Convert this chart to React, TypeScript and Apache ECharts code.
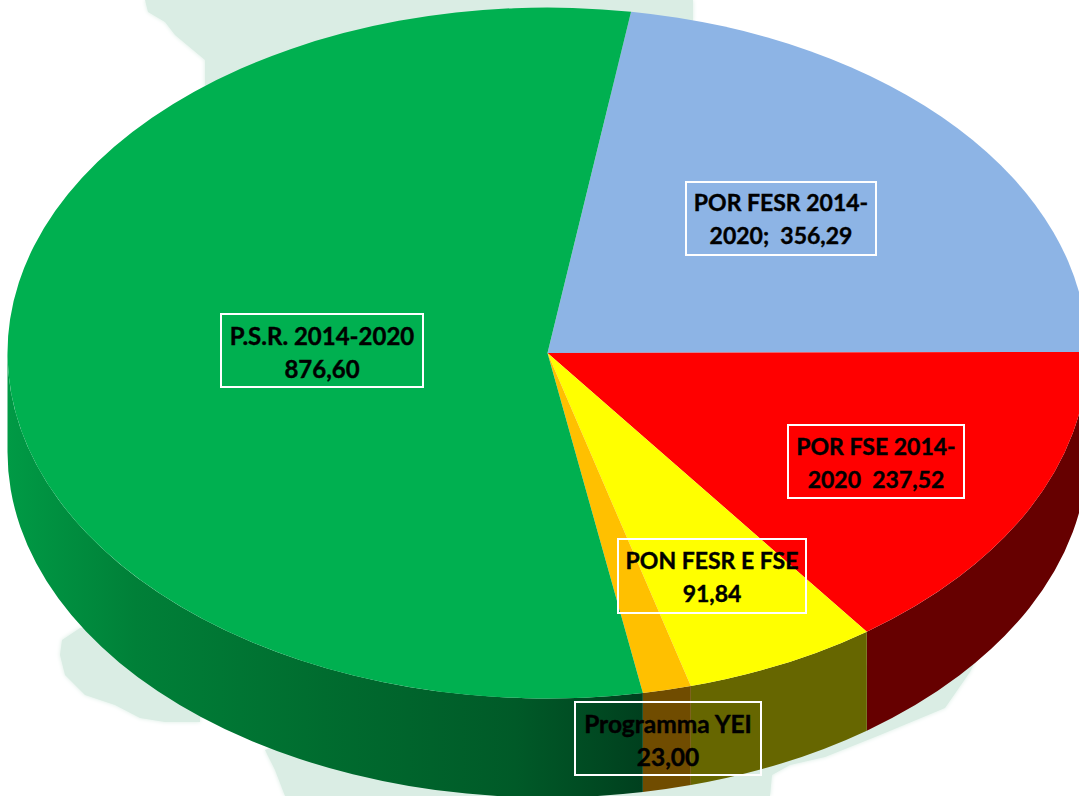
import React, { useEffect, useRef } from "react";
import * as echarts from "echarts";

const categories = ["POR FESR 2014-2020", "POR FSE 2014-2020", "PON FESR E FSE", "Programma YEI", "P.S.R. 2014-2020"];
const values = [356.29, 237.52, 91.84, 23.0, 876.6];
const labelTexts = [
  "POR FESR 2014-\n2020;  356,29",
  "POR FSE 2014-\n2020  237,52",
  "PON FESR E FSE\n91,84",
  "Programma YEI\n23,00",
  "P.S.R. 2014-2020\n876,60",
];
const topColors = ["#8DB4E5", "#FF0000", "#FFFF00", "#FFC000", "#00B050"];
const sideColors = ["#55708F", "#660000", "#666600", "#704C00", "#005A29"];

const CX = 547.5, CY = 353, RX = 540, RY = 345.5, DEPTH = 99;
const START = 8.9;
const total = values.reduce((a, b) => a + b, 0);

const pt = (deg: number, dy = 0): [number, number] => {
  const r = (deg * Math.PI) / 180;
  return [CX + RX * Math.sin(r), CY - RY * Math.cos(r) + dy];
};
const range = (i: number): [number, number] => {
  let s = START;
  for (let k = 0; k < i; k++) s += (values[k] / total) * 360;
  return [s, s + (values[i] / total) * 360];
};

const topPath = (a: number, b: number) => {
  const [x0, y0] = pt(a);
  const [x1, y1] = pt(b);
  return `M ${CX} ${CY} L ${x0} ${y0} A ${RX} ${RY} 0 ${b - a > 180 ? 1 : 0} 1 ${x1} ${y1} Z`;
};
const sidePath = (a: number, b: number) => {
  const [x0, y0] = pt(a);
  const [x1, y1] = pt(b);
  const [x2, y2] = pt(b, DEPTH);
  const [x3, y3] = pt(a, DEPTH);
  return `M ${x0} ${y0} A ${RX} ${RY} 0 0 1 ${x1} ${y1} L ${x2} ${y2} A ${RX} ${RY} 0 0 0 ${x3} ${y3} Z`;
};

const greenSide = {
  type: "linear", x: 8, y: 0, x2: 642, y2: 0, global: true,
  colorStops: [
    { offset: 0, color: "#009A45" },
    { offset: 0.2, color: "#008038" },
    { offset: 0.5, color: "#006C2F" },
    { offset: 0.8, color: "#005A28" },
    { offset: 1, color: "#00401E" },
  ],
};

const mapPolys: number[][][] = [
  [[145, 0], [148, 12], [165, 22], [175, 35], [205, 60], [205, 95], [640, 100], [693, 20], [693, 0]],
  [[80, 628], [62, 640], [60, 655], [65, 675], [85, 695], [115, 705], [140, 718], [165, 722], [200, 722], [200, 640]],
  [[285, 796], [275, 770], [265, 750], [400, 700], [800, 680], [985, 640], [970, 672], [945, 708], [880, 735], [825, 757], [790, 765], [772, 775], [770, 796]],
];

const labelBoxes = [
  [686, 182, 190, 73],
  [788, 425, 176, 73],
  [618, 539, 188, 74],
  [575, 702, 186, 73],
  [221, 314, 202, 73],
];
const labelSizes = [23, 23, 23, 24.5, 24];
const labelOffsets = [0, 0.5, 0, 1, 1];

export default function App() {
  const ref = useRef<HTMLDivElement>(null);
  useEffect(() => {
    document.body.style.margin = "0";
    document.body.style.overflow = "hidden";
    const chart = echarts.init(ref.current!, null, { renderer: "svg" });
    chart.setOption({
      animation: false,
      backgroundColor: "#FFFFFF",
      graphic: [
        ...mapPolys.map((p) => ({
          type: "polygon",
          silent: true,
          z: 0,
          shape: { points: p },
          style: { fill: "#DAEDE4", shadowBlur: 4, shadowColor: "#DAEDE4" },
        })),
        ...labelBoxes.map((b) => ({
          type: "rect",
          silent: true,
          z: 10,
          shape: { x: b[0], y: b[1], width: b[2], height: b[3] },
          style: { fill: "none", stroke: "#FFFFFF", lineWidth: 2 },
        })),
        ...labelBoxes.map((b, i) => ({
          type: "text",
          silent: true,
          z: 11,
          x: b[0] + b[2] / 2,
          y: b[1] + b[3] / 2 + labelOffsets[i],
          style: {
            text: labelTexts[i],
            fill: "#000000",
            stroke: "#000000",
            lineWidth: 0.4,
            font: `bold ${labelSizes[i]}px Lato, "Open Sans", sans-serif`,
            lineHeight: 33,
            align: "center",
            verticalAlign: "middle",
          },
        })),
      ],
      series: [
        {
          type: "custom",
          name: "side",
          coordinateSystem: "none",
          silent: true,
          z: 2,
          data: values.map((v, i) => ({ name: categories[i], value: v })),
          renderItem: (params: any) => {
            const i = params.dataIndex;
            const [a, b0] = range(i);
            const b = Math.min(b0, 270);
            const lo = Math.max(a, 90);
            if (b <= lo) return null;
            return {
              type: "path",
              shape: { pathData: sidePath(lo, b) },
              style: { fill: i === 4 ? greenSide : sideColors[i] },
            };
          },
        },
        {
          type: "custom",
          name: "top",
          coordinateSystem: "none",
          silent: true,
          z: 3,
          data: values.map((v, i) => ({ name: categories[i], value: v })),
          renderItem: (params: any) => {
            const i = params.dataIndex;
            const [a, b] = range(i);
            return {
              type: "path",
              shape: { pathData: topPath(a, b) },
              style: { fill: topColors[i] },
            };
          },
        },
      ],
    });
    return () => chart.dispose();
  }, []);
  return <div ref={ref} style={{ width: 1079, height: 796 }} />;
}
